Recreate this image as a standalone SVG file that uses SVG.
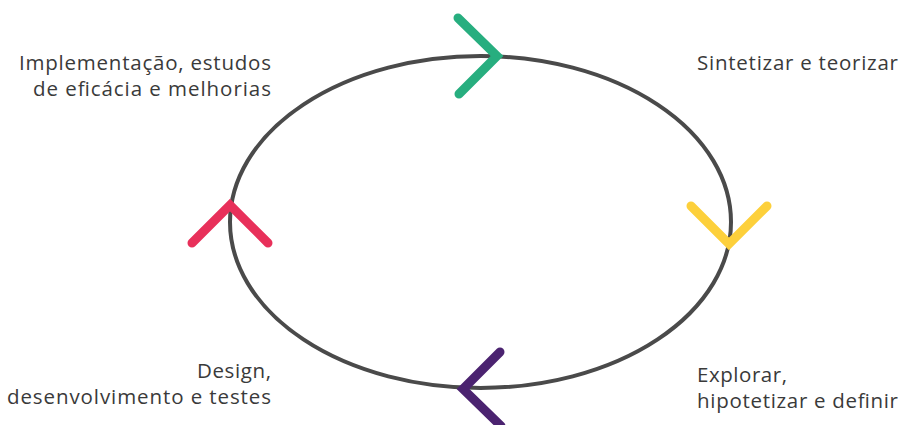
<svg xmlns="http://www.w3.org/2000/svg" width="903" height="425" viewBox="0 0 903 425">
<style>
.lbl{font-family:"Open Sans","Liberation Sans",sans-serif;font-size:20.5px;fill:#3a3a3a}
.r{text-anchor:end}
.chev{fill:none;stroke-width:9;stroke-linecap:round;stroke-linejoin:miter}
</style>
<rect width="903" height="425" fill="#ffffff"/>
<g id="cycle">
<ellipse cx="480.5" cy="222" rx="250.5" ry="166" fill="none" stroke="#4a4a4a" stroke-width="4"/>
</g>
<g id="connectors">
<polyline class="chev" stroke="#27ae7f" points="458,18 497,56 459,94"/>
<polyline class="chev" stroke="#fdd03b" points="691,206 729,244 767,206"/>
<polyline class="chev" stroke="#e8305a" points="192,243 230,205 268,243"/>
<polyline class="chev" stroke="#4b2370" points="500,352 463,389 501,426"/>
</g>
<g id="n1"><text class="lbl r" x="271" y="70" textLength="252" lengthAdjust="spacing">Implementação, estudos</text><text class="lbl r" x="271" y="96" textLength="238" lengthAdjust="spacing">de eficácia e melhorias</text></g>
<g id="n2"><text class="lbl" x="697" y="70" textLength="201" lengthAdjust="spacing">Sintetizar e teorizar</text></g>
<g id="n3"><text class="lbl" x="697" y="382" textLength="90" lengthAdjust="spacing">Explorar,</text><text class="lbl" x="697" y="408" textLength="201" lengthAdjust="spacing">hipotetizar e definir</text></g>
<g id="n4"><text class="lbl r" x="271" y="378" textLength="74" lengthAdjust="spacing">Design,</text><text class="lbl r" x="271" y="404" textLength="264" lengthAdjust="spacing">desenvolvimento e testes</text></g>
</svg>
